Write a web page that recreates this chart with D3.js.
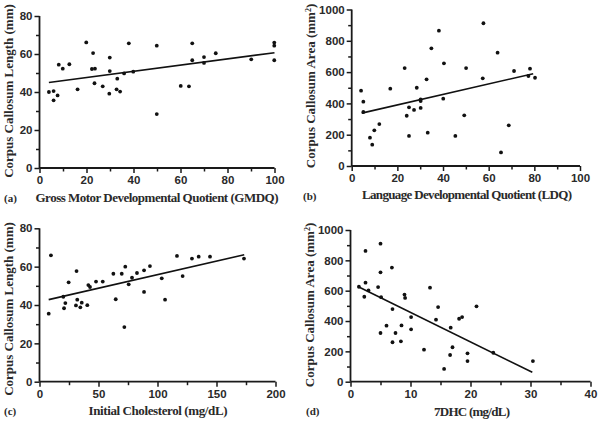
<!DOCTYPE html>
<html>
<head>
<meta charset="utf-8">
<script src="https://cdn.jsdelivr.net/npm/d3@7"></script>
<style>
  html, body { margin: 0; padding: 0; background: #fff; }
  svg { display: block; }
</style>
</head>
<body>
<svg id="chart" width="600" height="422"></svg>
<script>
// ---------------- DATA ----------------
// (a) Gross Motor Developmental Quotient vs Corpus Callosum Length
const gmdqX   = [4, 6, 6, 7.7, 8.2, 9.9, 12.7, 16.2, 19.9, 22.8, 22.3, 23.6, 23.4, 26.9, 29.9, 29.9, 29.7, 33.1, 32.8, 34.3, 36, 38, 39.9, 49.9, 49.9, 60.1, 63.6, 65, 65, 70, 70, 75, 90.1, 99.9, 99.9, 99.9];
const gmdqLen = [40, 40.5, 35.6, 38.2, 54.4, 52.3, 54.6, 41.4, 66.1, 60.5, 52.1, 52.3, 44.6, 43, 58.1, 51, 39.1, 47, 41.4, 40.2, 49.8, 65.6, 50.7, 64.4, 28.4, 43.2, 43, 65.6, 56.7, 58.4, 55.3, 60.4, 57.2, 66, 64.4, 56.7];
const gmdqFitX = [4, 100];
const gmdqFitY = [45.0, 60.7];

// (b) Language Developmental Quotient vs Corpus Callosum Area
const ldqX    = [4.1, 5.1, 5.1, 8, 9, 9.9, 12.1, 16.9, 23.2, 24.1, 25.1, 25.1, 27.3, 28.5, 30.2, 30.2, 30.2, 32.8, 33.3, 34.9, 38.2, 40.4, 40.1, 45.4, 49.3, 50.1, 57.4, 57.7, 63.9, 65.4, 68.8, 71.1, 77.4, 78.1, 80.3];
const ldqArea = [481, 411, 345, 181, 136, 228, 268, 494, 626, 321, 375, 192, 358, 500, 371, 415, 426, 554, 213, 752, 865, 656, 430, 192, 324, 626, 560, 912, 724, 87, 260, 607, 575, 622, 564];
const ldqFitX = [4.4, 79.5];
const ldqFitY = [338, 590];

// (c) Initial Cholesterol vs Corpus Callosum Length
const cholX   = [7.8, 9.7, 20.2, 20.8, 21.9, 24.7, 30.9, 31.4, 32, 34.6, 35.8, 40.5, 41.4, 42.8, 47.9, 53.6, 62.6, 64.6, 69.7, 71.9, 72.7, 75.6, 78.4, 82.6, 88.6, 88.6, 93.6, 103.6, 106.4, 116.5, 121.3, 129.2, 134.9, 144.5, 173.3];
const cholLen = [35.5, 65.9, 44.3, 38.3, 41, 51.8, 39.8, 57.7, 42.8, 38.8, 41.2, 39.9, 50.4, 49.4, 52.2, 52.2, 56.3, 43, 56.3, 28.5, 60, 50.8, 54.2, 56.7, 58.1, 46.8, 60.3, 53.9, 42.8, 65.6, 55.1, 64.2, 65.2, 65.2, 64.2];
const cholFitX = [7.8, 173.5];
const cholFitY = [42.8, 66.2];

// (d) 7DHC vs Corpus Callosum Area
const dhcX    = [1.4, 2.3, 2.5, 2.5, 3, 4.6, 5, 5, 5, 5.1, 6, 6.9, 7, 7, 7.5, 8.5, 8.4, 9, 9.1, 10.1, 10.1, 12.25, 13.25, 14.25, 14.6, 15.6, 16.6, 16.7, 17, 18.1, 18.6, 19.5, 19.5, 21, 23.8, 30.4];
const dhcArea = [626, 560, 862, 653, 602, 624, 910, 721, 321, 557, 369, 752, 479, 260, 321, 371, 266, 574, 552, 426, 345, 211, 620, 409, 492, 84, 176, 356, 227, 415, 426, 187, 136, 497, 191, 136];
const dhcFitX = [1.4, 30.3];
const dhcFitY = [624, 62];

// Tick values
const lenTicks   = [0, 20, 40, 60, 80];
const lenMinor   = [10, 30, 50, 70];
const areaTicks  = [0, 200, 400, 600, 800, 1000];
const areaMinor  = [100, 300, 500, 700, 900];
const qTicks     = [0, 20, 40, 60, 80, 100];
const qMinor     = [10, 30, 50, 70, 90];
const cholTicks  = [0, 50, 100, 150, 200];
const cholMinor  = [25, 75, 125, 175];
const dhcTicks   = [0, 10, 20, 30, 40];
const dhcMinor   = [5, 15, 25, 35];

// Labels
const panelLetters = ["(a)", "(b)", "(c)", "(d)"];
const xTitles = ["Gross Motor Developmental Quotient (GMDQ)", "Language Developmental Quotient (LDQ)", "Initial Cholesterol (mg/dL)", "7DHC (mg/dL)"];
const yTitles = ["Corpus Callosum Length (mm)", "Corpus Callosum Area (mm", "Corpus Callosum Length (mm)", "Corpus Callosum Area (mm"];

// ---------------- DRAW ----------------
const svg = d3.select("#chart");
const TXT = "#2a2a2a";

const panels = [
  { box: {l: 39.5, r: 274.5, t: 16, b: 168}, xd: [0, 100], yd: [0, 80], xt: qTicks, xm: qMinor, yt: lenTicks, ym: lenMinor,
    xs: gmdqX, ys: gmdqLen, fx: gmdqFitX, fy: gmdqFitY, sup: false,
    letterPos: [4, 202], xTitlePos: [157, 202], xTitleLen: 243, yTitlePos: [13, 91], yTitleLen: 153 },
  { box: {l: 351.7, r: 580, t: 9.5, b: 166}, xd: [0, 100], yd: [0, 1000], xt: qTicks, xm: qMinor, yt: areaTicks, ym: areaMinor,
    xs: ldqX, ys: ldqArea, fx: ldqFitX, fy: ldqFitY, sup: true,
    letterPos: [303, 200], xTitlePos: [467, 199], xTitleLen: 210, yTitlePos: [315, 86], yTitleLen: 146 },
  { box: {l: 39.5, r: 275.5, t: 228.3, b: 381.7}, xd: [0, 200], yd: [0, 80], xt: cholTicks, xm: cholMinor, yt: lenTicks, ym: lenMinor,
    xs: cholX, ys: cholLen, fx: cholFitX, fy: cholFitY, sup: false,
    letterPos: [4, 415], xTitlePos: [158, 415], xTitleLen: 139, yTitlePos: [13, 309], yTitleLen: 153 },
  { box: {l: 350.5, r: 590.5, t: 230, b: 381.7}, xd: [0, 40], yd: [0, 1000], xt: dhcTicks, xm: dhcMinor, yt: areaTicks, ym: areaMinor,
    xs: dhcX, ys: dhcArea, fx: dhcFitX, fy: dhcFitY, sup: true,
    letterPos: [306, 415], xTitlePos: [472, 416], xTitleLen: 76, yTitlePos: [314, 305], yTitleLen: 146 }
];

panels.forEach((p, i) => {
  const x = d3.scaleLinear().domain(p.xd).range([p.box.l, p.box.r]);
  const y = d3.scaleLinear().domain(p.yd).range([p.box.b, p.box.t]);
  const g = svg.append("g");

  // X axis (major + minor)
  const xAxis = g.append("g").attr("transform", `translate(0,${p.box.b})`)
    .call(d3.axisBottom(x).tickValues(p.xt).tickSize(5).tickPadding(3).tickFormat(d3.format("d")));
  g.append("g").attr("transform", `translate(0,${p.box.b})`)
    .call(d3.axisBottom(x).tickValues(p.xm).tickSize(3.5).tickFormat(""))
    .call(a => a.select(".domain").remove());
  // Y axis
  const yAxis = g.append("g").attr("transform", `translate(${p.box.l},0)`)
    .call(d3.axisLeft(y).tickValues(p.yt).tickSize(5).tickPadding(2).tickFormat(d3.format("d")));
  g.append("g").attr("transform", `translate(${p.box.l},0)`)
    .call(d3.axisLeft(y).tickValues(p.ym).tickSize(3.5).tickFormat(""))
    .call(a => a.select(".domain").remove());

  g.selectAll(".domain").attr("stroke", "#1a1a1a").attr("stroke-width", 1.8);
  g.selectAll(".tick line").attr("stroke", "#1a1a1a").attr("stroke-width", 1.5);
  g.selectAll(".tick text")
    .attr("fill", TXT)
    .style("font-family", "'Liberation Sans', Arial, sans-serif")
    .style("font-weight", "bold")
    .style("font-size", "11.5px");
  // remove outer domain ticks (D3 domain path has end caps) -> redraw as plain lines
  g.selectAll(".domain").attr("d", function() {
    const isX = this.parentNode.getAttribute("transform").startsWith("translate(0");
    return isX ? `M${p.box.l},0H${p.box.r}` : `M0,${p.box.t}V${p.box.b}`;
  });

  // Regression line
  g.append("line")
    .attr("x1", x(p.fx[0])).attr("y1", y(p.fy[0]))
    .attr("x2", x(p.fx[1])).attr("y2", y(p.fy[1]))
    .attr("stroke", "#111").attr("stroke-width", 1.6);

  // Points
  g.append("g").selectAll("circle")
    .data(p.xs.map((v, k) => [v, p.ys[k]]))
    .join("circle")
    .attr("cx", d => x(d[0])).attr("cy", d => y(d[1]))
    .attr("r", 1.9).attr("fill", "#111");

  // Panel letter
  g.append("text")
    .attr("x", p.letterPos[0]).attr("y", p.letterPos[1])
    .attr("fill", TXT)
    .style("font-family", "'Liberation Serif', 'Times New Roman', serif")
    .style("font-weight", "bold").style("font-size", "11px")
    .text(panelLetters[i]);

  // X title
  g.append("text")
    .attr("x", p.xTitlePos[0]).attr("y", p.xTitlePos[1])
    .attr("text-anchor", "middle")
    .attr("textLength", p.xTitleLen).attr("lengthAdjust", "spacing")
    .attr("fill", TXT)
    .style("font-family", "'Liberation Serif', 'Times New Roman', serif")
    .style("font-weight", "bold").style("font-size", "13px")
    .text(xTitles[i]);

  // Y title (rotated)
  const yt = g.append("text")
    .attr("transform", `translate(${p.yTitlePos[0]},${p.yTitlePos[1]}) rotate(-90)`)
    .attr("text-anchor", "middle")
    .attr("fill", TXT)
    .style("font-family", "'Liberation Serif', 'Times New Roman', serif")
    .style("font-weight", "bold").style("font-size", "13px");
  yt.append("tspan").text(yTitles[i]);
  if (p.sup) {
    yt.append("tspan").attr("dy", -4).style("font-size", "8px").text("2");
    yt.append("tspan").attr("dy", 4).text(")");
  }
});
</script>
</body>
</html>
